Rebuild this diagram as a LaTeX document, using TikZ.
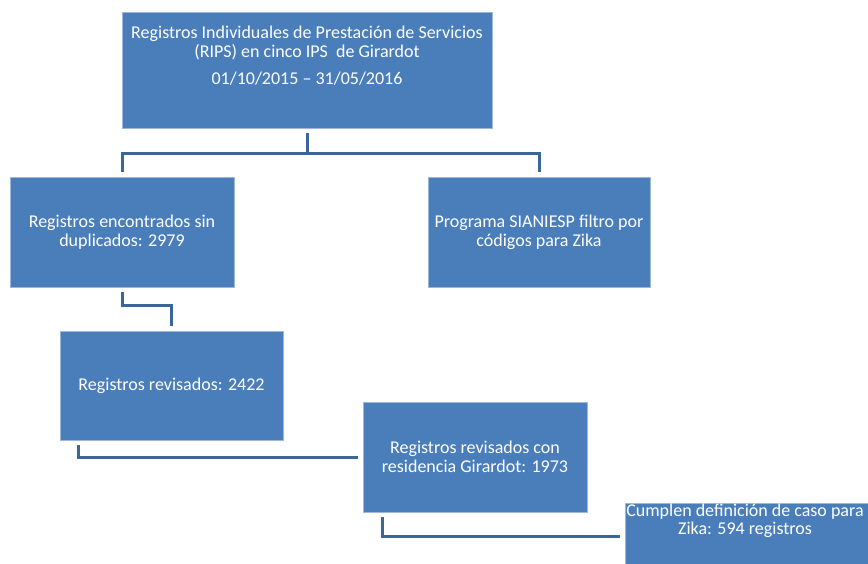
\documentclass[tikz,border=0pt]{standalone}
\usepackage{fontspec}
\setmainfont{Carlito}
\definecolor{azulcaja}{RGB}{74,126,187}
\definecolor{azullinea}{RGB}{59,102,152}
\tikzset{every picture/.style={line width=0.75pt}}
\tikzset{
	caja/.style={rectangle, fill=azulcaja, draw=azulcaja!55!white, line width=0.6pt, inner sep=0pt},
	texto/.style={text=white, font=\fontsize{13.5pt}{14pt}\selectfont, align=center, inner sep=0pt},
	conector/.style={draw=azullinea, line width=2.25pt, shorten <=3.75pt, shorten >=3.75pt}
}

\begin{document}
\begin{tikzpicture}[x=0.75pt,y=0.75pt,yscale=-1,xscale=1]
	\clip (0,0) rectangle (868,564);

	% Cajas
	\node[caja, minimum width=277.5pt, minimum height=87pt] (rips) at (307,70) {};
	\node[texto, anchor=north] (ripsTexto) at (307,26) {Registros Individuales de Prestación de Servicios\\(RIPS) en cinco IPS~ de Girardot\\[6pt]01/10/2015 – 31/05/2016};
	\node[caja, texto, minimum width=168pt, minimum height=82.5pt] (sinDup) at (122,232) {Registros encontrados sin\\duplicados: 2979};
	\node[caja, texto, minimum width=166.5pt, minimum height=82.5pt] (sianiesp) at (539,232) {Programa SIANIESP filtro por\\códigos para Zika};
	\node[caja, texto, minimum width=167.25pt, minimum height=81.75pt] (revisados) at (171.5,385.5) {Registros revisados: 2422};
	\node[caja, texto, minimum width=168pt, minimum height=82.5pt] (residencia) at (475,457) {Registros revisados con\\residencia Girardot: 1973};
	\node[caja, minimum width=182.25pt, minimum height=49.5pt] (zika) at (746.5,536) {};
	\node[texto, anchor=north] (zikaTexto) at (745,503) {Cumplen definición de caso para\\Zika: 594 registros};

	% Conectores
	\draw[conector] (rips.south) -- ++(0,25) -| (sinDup.north);
	\draw[conector] (rips.south) -- ++(0,25) -| (sianiesp.north);
	\draw[conector] (sinDup.south) -- ++(0,18) -| (revisados.north);
	\draw[conector] (revisados.south west) ++(19,0) |- (residencia.west);
	\draw[conector] (residencia.south west) ++(20,0) |- (zika.west);

\end{tikzpicture}
\end{document}
